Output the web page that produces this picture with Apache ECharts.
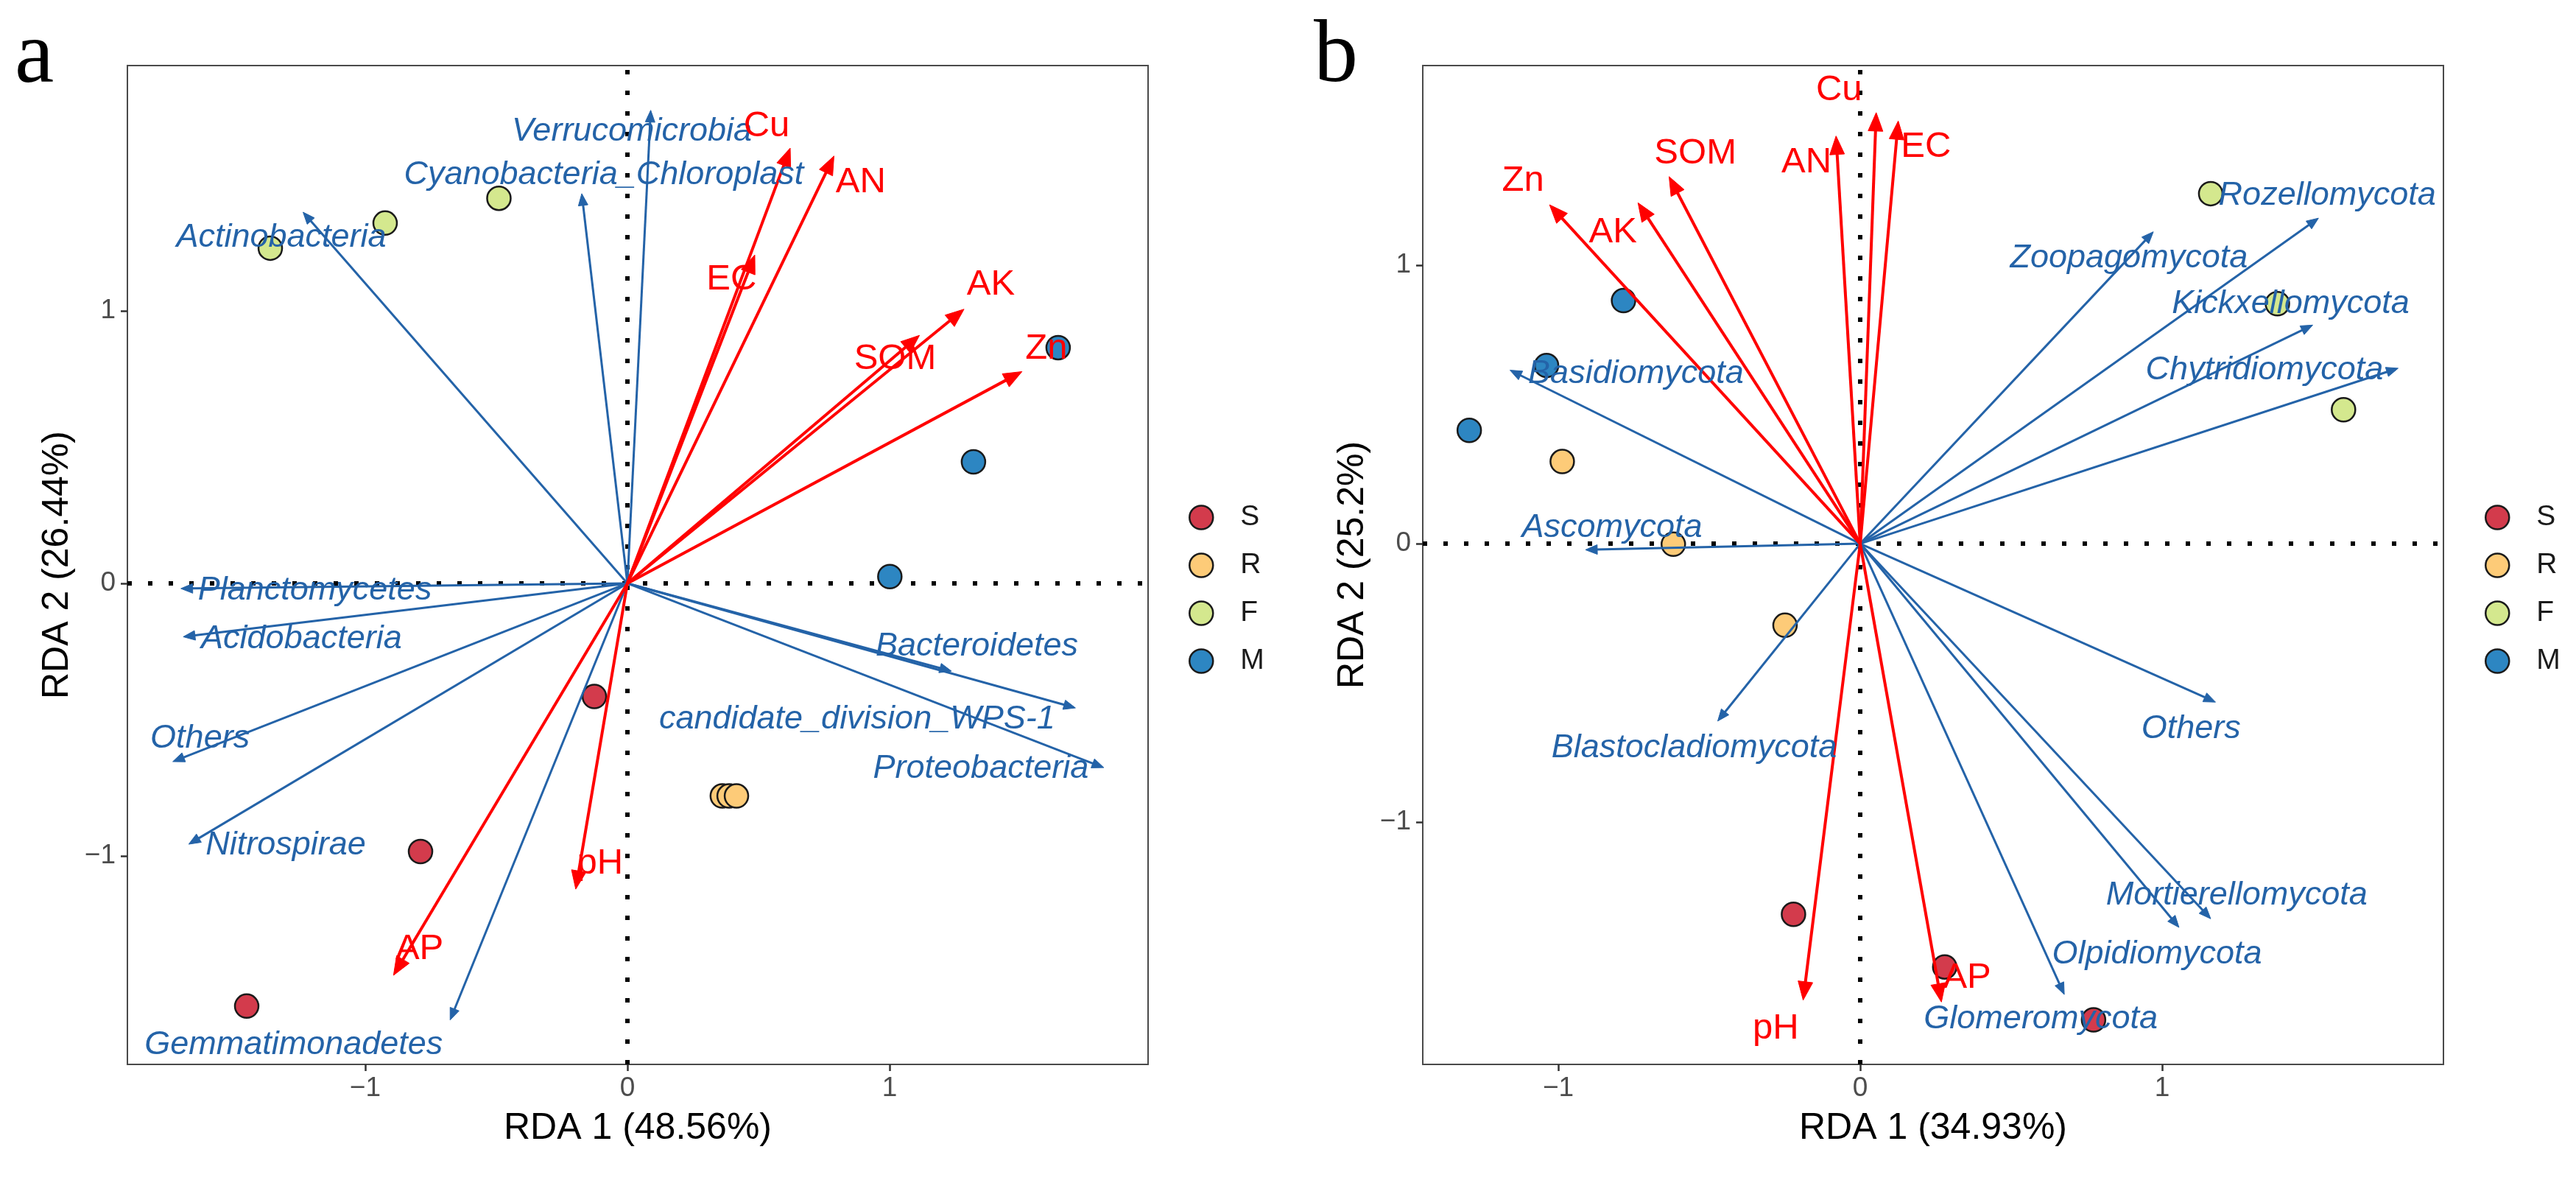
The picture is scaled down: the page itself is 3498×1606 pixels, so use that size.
<!DOCTYPE html>
<html><head><meta charset="utf-8">
<script src="https://cdn.jsdelivr.net/npm/echarts@6/dist/echarts.min.js"></script>
<style>html,body{margin:0;padding:0;background:#fff}#c{width:3498px;height:1606px}</style>
</head><body><div id="c"></div>
<script>
// ---------- data ----------
const groups = ['S', 'R', 'F', 'M'];
const groupColors = ['#D33B4C', '#FDCB78', '#D4E88E', '#2D86C2'];
const tickValues = [-1, 0, 1];

// Panel a (bacteria)
const aS = [[-0.126, -0.415], [-0.789, -0.984], [-1.452, -1.551]];
const aR = [[0.362, -0.78], [0.388, -0.78], [0.416, -0.78]];
const aF = [[-1.362, 1.230], [-0.924, 1.322], [-0.490, 1.413]];
const aM = [[1.643, 0.865], [1.320, 0.446], [1.001, 0.025]];

const aSpecies = ['Actinobacteria', 'Cyanobacteria_Chloroplast', 'Verrucomicrobia', 'Planctomycetes',
  'Acidobacteria', 'Others', 'Nitrospirae', 'Gemmatimonadetes', 'Bacteroidetes',
  'candidate_division_WPS-1', 'Proteobacteria'];
const aSpeciesTip = [[-1.237, 1.362], [-0.174, 1.430], [0.089, 1.736], [-1.703, -0.019],
  [-1.694, -0.196], [-1.734, -0.654], [-1.673, -0.957], [-0.676, -1.602], [1.236, -0.322],
  [1.709, -0.457], [1.817, -0.676]];
const aSpeciesLabelAt = [[-1.32, 1.27], [-0.09, 1.50], [0.017, 1.658], [-1.192, -0.025],
  [-1.243, -0.204], [-1.630, -0.570], [-1.303, -0.962], [-1.273, -1.692], [1.333, -0.232],
  [0.876, -0.500], [1.348, -0.680]];

const aEnv = ['Cu', 'AN', 'EC', 'AK', 'SOM', 'Zn', 'pH', 'AP'];
const aEnvTip = [[0.621, 1.597], [0.788, 1.568], [0.486, 1.205], [1.284, 1.006], [1.114, 0.910],
  [1.505, 0.777], [-0.197, -1.122], [-0.892, -1.438]];
const aEnvLabelAt = [[0.531, 1.676], [0.890, 1.471], [0.397, 1.115], [1.386, 1.097], [1.021, 0.823],
  [1.598, 0.862], [-0.104, -1.029], [-0.793, -1.343]];

// Panel b (fungi)
const bS = [[-0.221, -1.331], [0.280, -1.520], [0.773, -1.710]];
const bR = [[-0.987, 0.295], [-0.619, -0.002], [-0.249, -0.293]];
const bF = [[1.161, 1.257], [1.382, 0.862], [1.601, 0.481]];
const bM = [[-0.784, 0.873], [-1.039, 0.640], [-1.295, 0.407]];

const bSpecies = ['Basidiomycota', 'Ascomycota', 'Blastocladiomycota', 'Rozellomycota', 'Zoopagomycota',
  'Kickxellomycota', 'Chytridiomycota', 'Others', 'Mortierellomycota', 'Olpidiomycota', 'Glomeromycota'];
const bSpeciesTip = [[-1.160, 0.623], [-0.910, -0.022], [-0.472, -0.637], [1.518, 1.169], [0.971, 1.120],
  [1.499, 0.785], [1.782, 0.630], [1.177, -0.569], [1.161, -1.347], [1.056, -1.378], [0.676, -1.619]];
const bSpeciesLabelAt = [[-0.743, 0.609], [-0.822, 0.056], [-0.550, -0.735], [1.547, 1.250], [0.890, 1.024],
  [1.426, 0.862], [1.339, 0.623], [1.096, -0.664], [1.247, -1.262], [0.983, -1.474], [0.598, -1.706]];

const bEnv = ['Cu', 'EC', 'AN', 'SOM', 'AK', 'Zn', 'pH', 'AP'];
const bEnvTip = [[0.053, 1.548], [0.126, 1.518], [-0.080, 1.464], [-0.633, 1.318], [-0.736, 1.224],
  [-1.029, 1.217], [-0.189, -1.639], [0.269, -1.646]];
const bEnvLabelAt = [[-0.070, 1.629], [0.218, 1.426], [-0.178, 1.369], [-0.546, 1.402], [-0.819, 1.119],
  [-1.117, 1.302], [-0.280, -1.741], [0.354, -1.558]];

const axisTitlesX = ['RDA 1 (48.56%)', 'RDA 1 (34.93%)'];
const axisTitlesY = ['RDA 2 (26.44%)', 'RDA 2 (25.2%)'];
const panelLetters = ['a', 'b'];

// ---------- styles ----------
const BLUE = '#2463A8';
const RED = '#FF0000';
const SANS = '"Liberation Sans", Arial, sans-serif';

function arrowRender(color, lw, headLen, headHalf) {
  return function (params, api) {
    const o = api.coord([0, 0]);
    const t = api.coord([api.value(0), api.value(1)]);
    const dx = t[0] - o[0], dy = t[1] - o[1];
    const L = Math.sqrt(dx * dx + dy * dy) || 1;
    const ux = dx / L, uy = dy / L;
    const bx = t[0] - ux * headLen, by = t[1] - uy * headLen;
    return {
      type: 'group',
      children: [
        { type: 'line', shape: { x1: o[0], y1: o[1], x2: bx + ux * 2, y2: by + uy * 2 },
          style: { stroke: color, lineWidth: lw } },
        { type: 'polygon',
          shape: { points: [[t[0], t[1]], [bx - uy * headHalf, by + ux * headHalf], [bx + uy * headHalf, by - ux * headHalf]] },
          style: { fill: color, stroke: color, lineWidth: 1 } }
      ]
    };
  };
}

function textRender(names, color, font) {
  return function (params, api) {
    const p = api.coord([api.value(0), api.value(1)]);
    return {
      type: 'text', x: p[0], y: p[1],
      style: { text: names[params.dataIndex], fill: color, font: font, align: 'center', verticalAlign: 'middle' }
    };
  };
}

const fmt = v => (v < 0 ? '\u2212' + Math.abs(v) : String(v));

function makeX(idx, min, max) {
  return {
    type: 'value', gridIndex: idx, min: min, max: max, position: 'bottom',
    name: axisTitlesX[idx], nameLocation: 'middle', nameGap: 62,
    nameTextStyle: { fontSize: 50, color: '#000', fontFamily: SANS },
    axisLine: { show: false, onZero: false },
    axisTick: { show: true, length: 9, customValues: tickValues, lineStyle: { color: '#333', width: 2.5 } },
    axisLabel: { customValues: tickValues, formatter: fmt, fontSize: 37, color: '#4D4D4D', fontFamily: SANS, margin: 14 },
    splitLine: { show: false }
  };
}
function makeY(idx, min, max) {
  return {
    type: 'value', gridIndex: idx, min: min, max: max, position: 'left',
    name: axisTitlesY[idx], nameLocation: 'middle', nameGap: 70,
    nameTextStyle: { fontSize: 50, color: '#000', fontFamily: SANS },
    axisLine: { show: false, onZero: false },
    axisTick: { show: true, length: 9, customValues: tickValues, lineStyle: { color: '#333', width: 2.5 } },
    axisLabel: { customValues: tickValues, formatter: fmt, fontSize: 37, color: '#4D4D4D', fontFamily: SANS, margin: 16 },
    splitLine: { show: false }
  };
}

function panelSeries(idx, pts, spNames, spTip, spLab, envNames, envTip, envLab) {
  const s = [];
  groups.forEach((g, i) => {
    const ser = {
      type: 'scatter', name: g, xAxisIndex: idx, yAxisIndex: idx, data: pts[i],
      symbol: 'circle', symbolSize: 32, z: 2,
      itemStyle: { color: groupColors[i], borderColor: '#1a1a1a', borderWidth: 2.5, opacity: 1 },
      emphasis: { disabled: true }
    };
    if (i === 0) {
      ser.markLine = {
        silent: true, symbol: ['none', 'none'], z: 1, animation: false,
        label: { show: false },
        lineStyle: { color: '#000', width: 6, type: [6, 22] },
        data: [{ xAxis: 0 }, { yAxis: 0 }]
      };
    }
    s.push(ser);
  });
  s.push({ type: 'custom', xAxisIndex: idx, yAxisIndex: idx, z: 3, silent: true,
    renderItem: arrowRender(BLUE, 3, 16, 6.5), data: spTip });
  s.push({ type: 'custom', xAxisIndex: idx, yAxisIndex: idx, z: 3, silent: true,
    renderItem: arrowRender(RED, 4, 25, 10), data: envTip });
  s.push({ type: 'custom', xAxisIndex: idx, yAxisIndex: idx, z: 4, silent: true,
    renderItem: textRender(spNames, BLUE, 'italic 45px ' + SANS), data: spLab });
  s.push({ type: 'custom', xAxisIndex: idx, yAxisIndex: idx, z: 4, silent: true,
    renderItem: textRender(envNames, RED, '49px ' + SANS), data: envLab });
  return s;
}

const legendBase = {
  data: groups, orient: 'vertical', itemWidth: 32, itemHeight: 32, itemGap: 26, icon: 'circle',
  itemStyle: { borderColor: '#1a1a1a', borderWidth: 2.5 },
  textStyle: { fontSize: 39, color: '#1a1a1a', fontFamily: SANS, padding: [0, 0, 0, 32] },
  selectedMode: false
};

const option = {
  animation: false,
  backgroundColor: '#fff',
  grid: [
    { left: 173, top: 89, width: 1386, height: 1356, show: true, borderColor: '#4a4a4a', borderWidth: 2,
      backgroundColor: 'transparent', outerBoundsMode: 'none', containLabel: false },
    { left: 1932, top: 89, width: 1386, height: 1356, show: true, borderColor: '#4a4a4a', borderWidth: 2,
      backgroundColor: 'transparent', outerBoundsMode: 'none', containLabel: false }
  ],
  xAxis: [makeX(0, -1.907, 1.986), makeX(1, -1.449, 1.932)],
  yAxis: [makeY(0, -1.765, 1.900), makeY(1, -1.870, 1.717)],
  legend: [
    Object.assign({}, legendBase, { left: 1609, top: 678 }),
    Object.assign({}, legendBase, { left: 3369, top: 678 })
  ],
  graphic: [
    { type: 'text', left: 20, top: 19, style: { text: panelLetters[0], font: '120px "Liberation Serif", serif', fill: '#000' } },
    { type: 'text', left: 1784, top: 18, style: { text: panelLetters[1], font: '120px "Liberation Serif", serif', fill: '#000' } }
  ],
  series: [].concat(
    panelSeries(0, [aS, aR, aF, aM], aSpecies, aSpeciesTip, aSpeciesLabelAt, aEnv, aEnvTip, aEnvLabelAt),
    panelSeries(1, [bS, bR, bF, bM], bSpecies, bSpeciesTip, bSpeciesLabelAt, bEnv, bEnvTip, bEnvLabelAt)
  )
};

const chart = echarts.init(document.getElementById('c'), null, { renderer: 'canvas' });
chart.setOption(option);
</script>
</body></html>
